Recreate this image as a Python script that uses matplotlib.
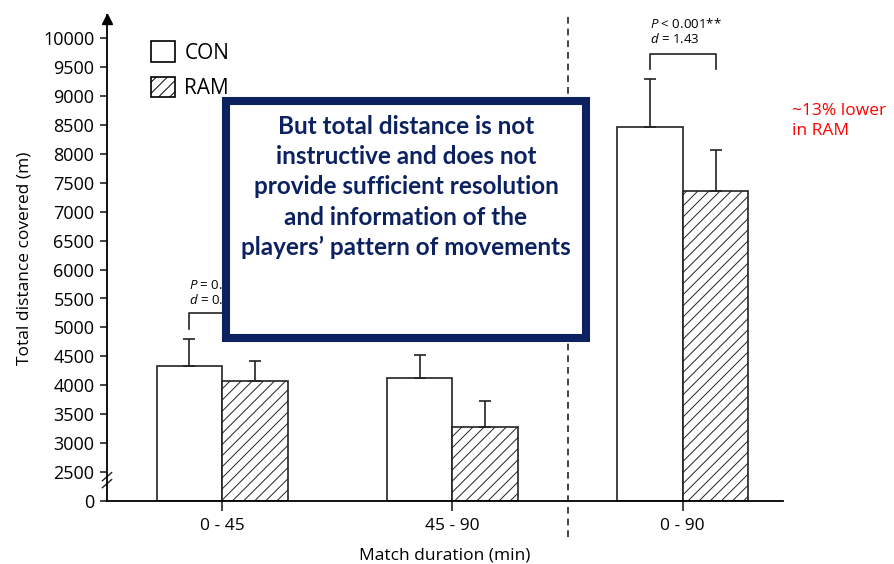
import numpy as np
import matplotlib
matplotlib.use("Agg")
from matplotlib import pyplot as plt
from matplotlib.patches import Patch, Rectangle

# data (m)
groups = ["0 - 45", "45 - 90", "0 - 90"]
con_mean = [4340, 4120, 8460]
con_sd = [460, 410, 830]
ram_mean = [4080, 3280, 7350]
ram_sd = [340, 440, 710]
yticks = [2500, 3000, 3500, 4000, 4500, 5000, 5500, 6000, 6500,
          7000, 7500, 8000, 8500, 9000, 9500, 10000]
base = 2000  # plotted position of the "0" after the axis break

plt.rcParams["font.family"] = ["Open Sans", "DejaVu Sans"]
plt.rcParams["mathtext.fontset"] = "custom"
plt.rcParams["mathtext.it"] = "Open Sans:italic"
plt.rcParams["mathtext.rm"] = "Open Sans"
plt.rcParams["hatch.linewidth"] = 0.7

fig = plt.figure(figsize=(8.94, 5.64), dpi=100, facecolor="white")
W, H = 894, 564
ax = fig.add_axes([107 / W, (H - 501) / H, (783 - 107) / W, (501 - 15) / H])

x = np.arange(len(groups))
w = 0.285
con_h = [m - base for m in con_mean]
ram_h = [m - base for m in ram_mean]
ax.bar(x - w / 2, con_h, w, bottom=base, color="white", edgecolor="#222222", lw=1.2, zorder=2)
ax.bar(x + w / 2, ram_h, w, bottom=base, color="white", edgecolor="#222222", lw=1.2,
       hatch="///", zorder=2)
ax.errorbar(x - w / 2, con_mean, yerr=[np.zeros(3), con_sd], fmt="none", ecolor="#222222",
            elinewidth=1.2, capsize=4, capthick=1.2, zorder=3)
ax.errorbar(x + w / 2, ram_mean, yerr=[np.zeros(3), ram_sd], fmt="none", ecolor="#222222",
            elinewidth=1.2, capsize=4, capthick=1.2, zorder=3)

ax.set_xlim(-0.5, 2.435)
ax.set_ylim(base, 10400)
ax.set_yticks([base] + yticks)
ax.set_yticklabels(["0"] + [str(t) for t in yticks], fontsize=13)
ax.set_xticks(x)
ax.set_xticklabels(groups, fontsize=12.5)
ax.tick_params(axis="y", length=5, width=1.2, pad=4, color="#222222")
ax.tick_params(axis="x", length=7, width=1.2, pad=5, color="#222222")
for s in ["top", "right"]:
    ax.spines[s].set_visible(False)
ax.spines["left"].set_linewidth(1.3)
ax.spines["bottom"].set_linewidth(1.3)
ax.set_ylabel("Total distance covered (m)", fontsize=12.5, labelpad=8)
ax.set_xlabel("Match duration (min)", fontsize=12.5, labelpad=10)

# arrow on the y axis
ax.plot([-0.5], [10330], marker="^", color="black", ms=7, clip_on=False)
# axis break marks
for yb in [2300, 2420]:
    ax.plot([-0.52, -0.48], [yb - 70, yb + 70], color="#222222", lw=1, clip_on=False)

# half-time separator
ax.plot([1.5, 1.5], [1380, 10400], color="#222222", lw=1.2, ls=(0, (4, 3)),
        clip_on=False, zorder=1)

# significance brackets
ax.plot([-w / 2, -w / 2, w / 2, w / 2], [4970, 5250, 5250, 4970], color="#222222", lw=1.2)
ax.text(-w / 2, 5730, "$P$ = 0.", fontsize=9.5, ha="left", va="center")
ax.text(-w / 2, 5470, "$d$ = 0.", fontsize=9.5, ha="left", va="center")
ax.plot([2 - w / 2, 2 - w / 2, 2 + w / 2, 2 + w / 2], [9460, 9720, 9720, 9460],
        color="#222222", lw=1.2)
ax.text(2 - w / 2, 10240, "$P$ < 0.001**", fontsize=9.5, ha="left", va="center")
ax.text(2 - w / 2, 9980, "$d$ = 1.43", fontsize=9.5, ha="left", va="center")

handles = [Patch(facecolor="white", edgecolor="black", lw=1.2, label="CON"),
           Patch(facecolor="white", edgecolor="black", lw=1.2, hatch="///", label="RAM")]
ax.legend(handles=handles, loc="upper left", bbox_to_anchor=(0.065, 0.946), frameon=False,
          fontsize=15, handlelength=1.15, handleheight=1.15, handletextpad=0.45,
          labelspacing=0.62, borderpad=0, borderaxespad=0)

# overlay box
navy = "#0c2260"
box = Rectangle((226 / W, (H - 338) / H), (586 - 226) / W, (338 - 101) / H,
                transform=fig.transFigure, facecolor="white", edgecolor=navy,
                lw=5.8, zorder=10)
fig.patches.append(box)
fig.text(406 / W, (H - 187) / H,
         "But total distance is not\ninstructive and does not\nprovide sufficient resolution\n"
         "and information of the\nplayers\u2019 pattern of movements",
         ha="center", va="center", fontsize=17.5, fontweight="bold", color=navy,
         family=["Lato", "DejaVu Sans"], linespacing=1.38, zorder=11)

fig.text(792 / W, (H - 121) / H, "~13% lower\nin RAM", color="#ff0000", fontsize=12.5,
         ha="left", va="center", linespacing=1.3)

fig.savefig("out.png", dpi=100)
